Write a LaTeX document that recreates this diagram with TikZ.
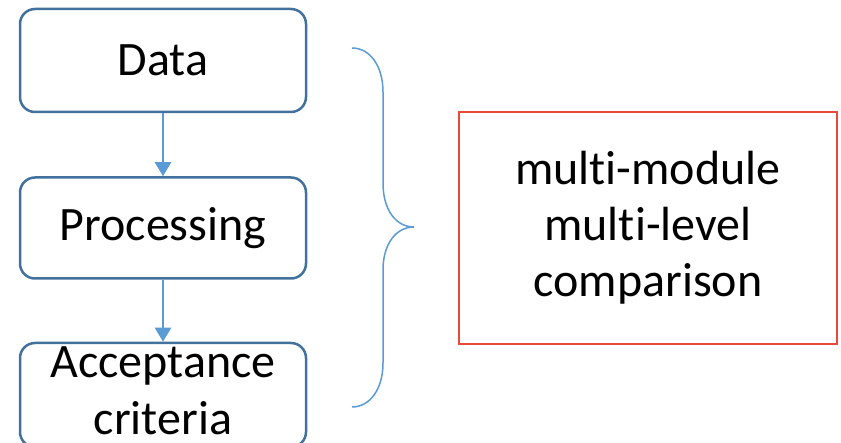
\documentclass[tikz,border=0pt]{standalone}
\usepackage{fontspec}
\setmainfont{Carlito}[Ligatures={NoCommon}]
\usetikzlibrary{arrows.meta}
\definecolor{boxblue}{RGB}{65,113,156}
\definecolor{arrblue}{RGB}{91,155,213}
\definecolor{boxred}{RGB}{236,72,58}
\tikzset{
  stepbox/.style={draw=boxblue, line width=2.5pt, rounded corners=15pt, fill=white,
    minimum width=286pt, inner sep=0pt, align=center,
    font=\fontsize{48}{58.5}\selectfont},
  flowarrow/.style={draw=arrblue, line width=2.2pt, -{Triangle[width=16pt,length=14pt]}},
  bracestyle/.style={draw=arrblue, line width=1.5pt},
  resultbox/.style={draw=boxred, line width=2.5pt, minimum width=378pt, minimum height=232pt,
    inner sep=0pt, align=center, font=\fontsize{48}{56}\selectfont}
}
\begin{document}
\begin{tikzpicture}[x=1pt,y=-1pt]
\useasboundingbox (0,0) rectangle (841,443);
\node[stepbox, minimum height=103pt] (data) at (163,60.5) {Data};
\node[stepbox, minimum height=101pt] (proc) at (163,228) {Processing};
\node[stepbox, minimum height=104pt] (acc) at (163,395) {};
\node[font=\fontsize{48}{57}\selectfont, align=center, inner sep=0pt] (acctext) at (163,391) {Acceptance\\criteria};
\draw[flowarrow] (data.south) -- (proc.north);
\draw[flowarrow] (proc.south) -- (acc.north);
\coordinate (btop) at (352,48);
\coordinate (btip) at (414,227);
\coordinate (bbot) at (352,407);
\draw[bracestyle] (btop) .. controls (370,48) and (383,66) .. (383,92)
  -- (383,183) .. controls (383,210) and (396,227) .. (btip)
  .. controls (396,227) and (383,244) .. (383,270)
  -- (383,363) .. controls (383,389) and (370,407) .. (bbot);
\node[resultbox] (res) at (648,228) {multi-module\\multi-level\\comparison};
\end{tikzpicture}
\end{document}
